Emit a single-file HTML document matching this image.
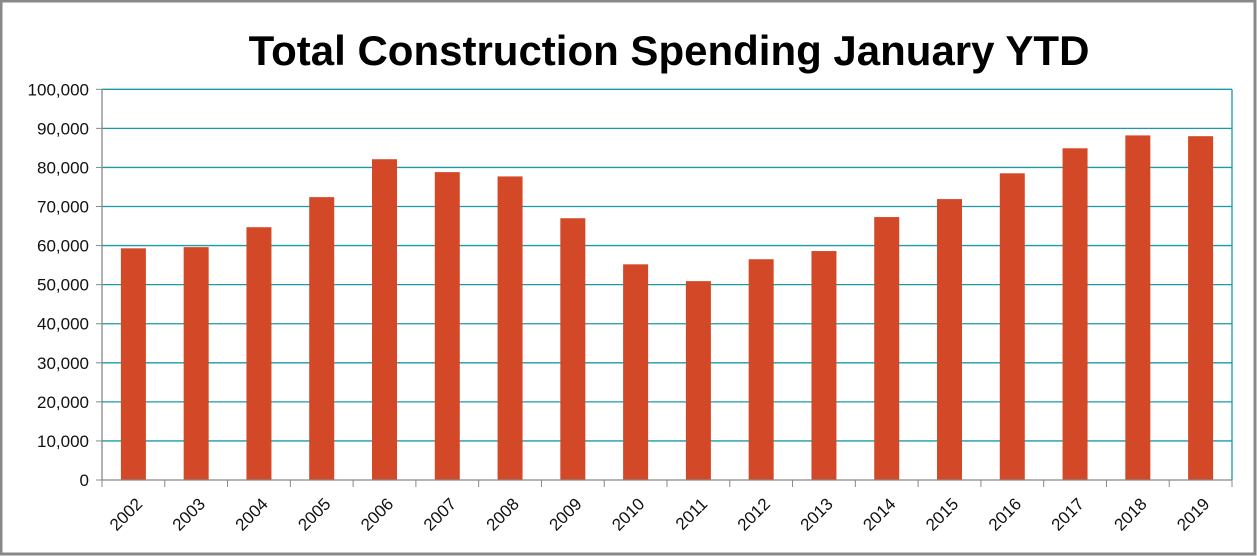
<!DOCTYPE html>
<html><head><meta charset="utf-8"><style>
html,body{margin:0;padding:0;background:#fff;}
svg{display:block;font-family:"Liberation Sans",sans-serif;}
</style></head><body>
<svg id="chart" width="1257" height="556">
<rect x="1" y="1" width="1254" height="553" fill="#fff" stroke="#888" stroke-width="3"/>
<text x="669" y="65" text-anchor="middle" font-size="42" font-weight="bold" fill="#000">Total Construction Spending January YTD</text>
<g id="grid"></g><g id="bars"></g><g id="axes"></g>
</svg>
<script>
const categories=["2002","2003","2004","2005","2006","2007","2008","2009","2010","2011","2012","2013","2014","2015","2016","2017","2018","2019"];
const values=[59300,59600,64700,72400,82100,78800,77700,67000,55200,50900,56500,58600,67300,71900,78500,84900,88200,88000];
const yTicks=[0,10000,20000,30000,40000,50000,60000,70000,80000,90000,100000];
const yTickLabels=["0","10,000","20,000","30,000","40,000","50,000","60,000","70,000","80,000","90,000","100,000"];
const L=102,R=1232,T=89.3,B=480,yMax=100000;
const NS="http://www.w3.org/2000/svg";
const y=v=>B-(v/yMax)*(B-T);
const step=(R-L)/categories.length;
const x=i=>L+step*i+step/2;
function mk(tag,attrs,parent){const e=document.createElementNS(NS,tag);for(const k in attrs)e.setAttribute(k,attrs[k]);document.getElementById(parent).appendChild(e);return e;}
yTicks.forEach((t,i)=>{
  const yy=y(t);
  if(t>0){const g=mk('line',{x1:L,x2:R,y1:yy,y2:yy,stroke:'#1a9aa8','stroke-width':1.3},'grid');
  
  }
  const tk=mk('line',{x1:L-6,x2:L,y1:yy,y2:yy,stroke:'#888','stroke-width':1},'axes');
  
  
  const lb=mk('text',{x:L-13,y:yy+6,'text-anchor':'end','font-size':17,fill:'#111'},'axes');
  lb.textContent=yTickLabels[i];
  
  
});
const rb=mk('line',{x1:R,x2:R,y1:T,y2:B,stroke:'#1a9aa8','stroke-width':1.3},'grid');


values.forEach((v,i)=>{
  const b=mk('rect',{x:x(i)-12.5,y:y(v),width:25,height:B-y(v),fill:'#d34827'},'bars');
  
  
  const lb=mk('text',{x:0,y:0,'text-anchor':'end','font-size':17,fill:'#111',transform:`translate(${x(i)+10},${B+25}) rotate(-45)`},'axes');
  lb.textContent=categories[i];
  
  
});
for(let i=0;i<=categories.length;i++){
  const xx=L+step*i;
  const tk=mk('line',{x1:xx,x2:xx,y1:B,y2:B+7,stroke:'#888','stroke-width':1},'axes');
  
  
}
const ya=mk('line',{x1:L,x2:L,y1:T,y2:B,stroke:'#888','stroke-width':1.3},'axes');


const xa=mk('line',{x1:L,x2:R,y1:B,y2:B,stroke:'#888','stroke-width':1.3},'axes');


</script>
</body></html>
